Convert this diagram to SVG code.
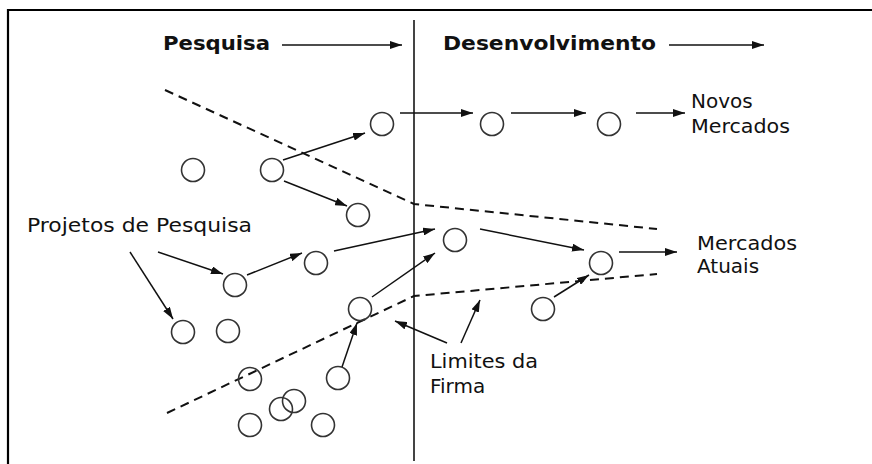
<svg xmlns="http://www.w3.org/2000/svg" width="872" height="464" viewBox="0 0 872 464">
<style>
.c{fill:none;stroke:#333;stroke-width:1.6}
.a{fill:none;stroke:#111;stroke-width:1.5;marker-end:url(#ah)}
.d{fill:none;stroke:#111;stroke-width:2;stroke-dasharray:9 6}
.t{font-family:"DejaVu Sans",Verdana,sans-serif;font-size:20px;fill:#111}
.b{font-family:"DejaVu Sans",Verdana,sans-serif;font-size:20px;font-weight:bold;fill:#111}
</style>
<defs>
<marker id="ah" markerUnits="userSpaceOnUse" markerWidth="12" markerHeight="8" refX="12" refY="4" orient="auto">
<path d="M0,0 L12,4 L0,8 z" fill="#111"/>
</marker>
</defs>
<rect width="872" height="464" fill="#fff"/>
<path d="M8,464 V10 H872" fill="none" stroke="#000" stroke-width="2.2"/>
<line x1="414" y1="20" x2="414" y2="461" stroke="#444" stroke-width="2"/>
<g id="headers">
<text class="b" x="163" y="50" textLength="107" lengthAdjust="spacingAndGlyphs">Pesquisa</text>
<text class="b" x="443" y="50" textLength="213" lengthAdjust="spacingAndGlyphs">Desenvolvimento</text>
</g>
<g id="boundaries">
<polyline class="d" points="165,90 414,204 657,229"/>
<polyline class="d" points="167,413 414,296 657,274"/>
</g>
<g id="nodes">
<g id="n1"><circle class="c" cx="382" cy="124" r="11.5"/></g>
<g id="n2"><circle class="c" cx="492" cy="124" r="11.5"/></g>
<g id="n3"><circle class="c" cx="609" cy="124" r="11.5"/></g>
<g id="n4"><circle class="c" cx="193" cy="170" r="11.5"/></g>
<g id="n5"><circle class="c" cx="272" cy="170" r="11.5"/></g>
<g id="n6"><circle class="c" cx="358" cy="215" r="11.5"/></g>
<g id="n7"><circle class="c" cx="455" cy="240" r="11.5"/></g>
<g id="n8"><circle class="c" cx="316" cy="263" r="11.5"/></g>
<g id="n9"><circle class="c" cx="235" cy="285" r="11.5"/></g>
<g id="n10"><circle class="c" cx="601" cy="263" r="11.5"/></g>
<g id="n11"><circle class="c" cx="360" cy="309" r="11.5"/></g>
<g id="n12"><circle class="c" cx="543" cy="309" r="11.5"/></g>
<g id="n13"><circle class="c" cx="183" cy="332" r="11.5"/></g>
<g id="n14"><circle class="c" cx="228" cy="331" r="11.5"/></g>
<g id="n15"><circle class="c" cx="250" cy="379" r="11.5"/></g>
<g id="n16"><circle class="c" cx="338" cy="378" r="11.5"/></g>
<g id="n17"><circle class="c" cx="294" cy="401" r="11.5"/></g>
<g id="n18"><circle class="c" cx="281" cy="409" r="11.5"/></g>
<g id="n19"><circle class="c" cx="250" cy="425" r="11.5"/></g>
<g id="n20"><circle class="c" cx="323" cy="425" r="11.5"/></g>
</g>
<g id="labels">
<g id="lbl-projetos"><text class="t" x="27" y="232" textLength="225" lengthAdjust="spacingAndGlyphs">Projetos de Pesquisa</text></g>
<g id="lbl-novos"><text class="t" x="691" y="108">Novos</text><text class="t" x="691" y="133" textLength="99" lengthAdjust="spacingAndGlyphs">Mercados</text></g>
<g id="lbl-atuais"><text class="t" x="697" y="250" textLength="100" lengthAdjust="spacingAndGlyphs">Mercados</text><text class="t" x="697" y="273">Atuais</text></g>
<g id="lbl-limites"><text class="t" x="430" y="368" textLength="108" lengthAdjust="spacingAndGlyphs">Limites da</text><text class="t" x="430" y="393">Firma</text></g>
</g>
<g id="connectors">
<line class="a" x1="282" y1="45" x2="402" y2="45"/>
<line class="a" x1="669" y1="45" x2="764" y2="45"/>
<line class="a" x1="283" y1="160" x2="365" y2="133"/>
<line class="a" x1="284" y1="181" x2="347" y2="206"/>
<line class="a" x1="400" y1="113" x2="473" y2="113"/>
<line class="a" x1="511" y1="113" x2="586" y2="113"/>
<line class="a" x1="636" y1="113" x2="685" y2="113"/>
<line class="a" x1="130" y1="252" x2="173" y2="319"/>
<line class="a" x1="158" y1="252" x2="223" y2="274"/>
<line class="a" x1="247" y1="275" x2="302" y2="253"/>
<line class="a" x1="334" y1="251" x2="435" y2="229"/>
<line class="a" x1="372" y1="297" x2="435" y2="253"/>
<line class="a" x1="480" y1="229" x2="584" y2="250"/>
<line class="a" x1="619" y1="252" x2="677" y2="252"/>
<line class="a" x1="554" y1="297" x2="589" y2="275"/>
<line class="a" x1="342" y1="367" x2="357" y2="323"/>
<line class="a" x1="447" y1="343" x2="395" y2="321"/>
<line class="a" x1="461" y1="343" x2="480" y2="300"/>
</g>
</svg>
